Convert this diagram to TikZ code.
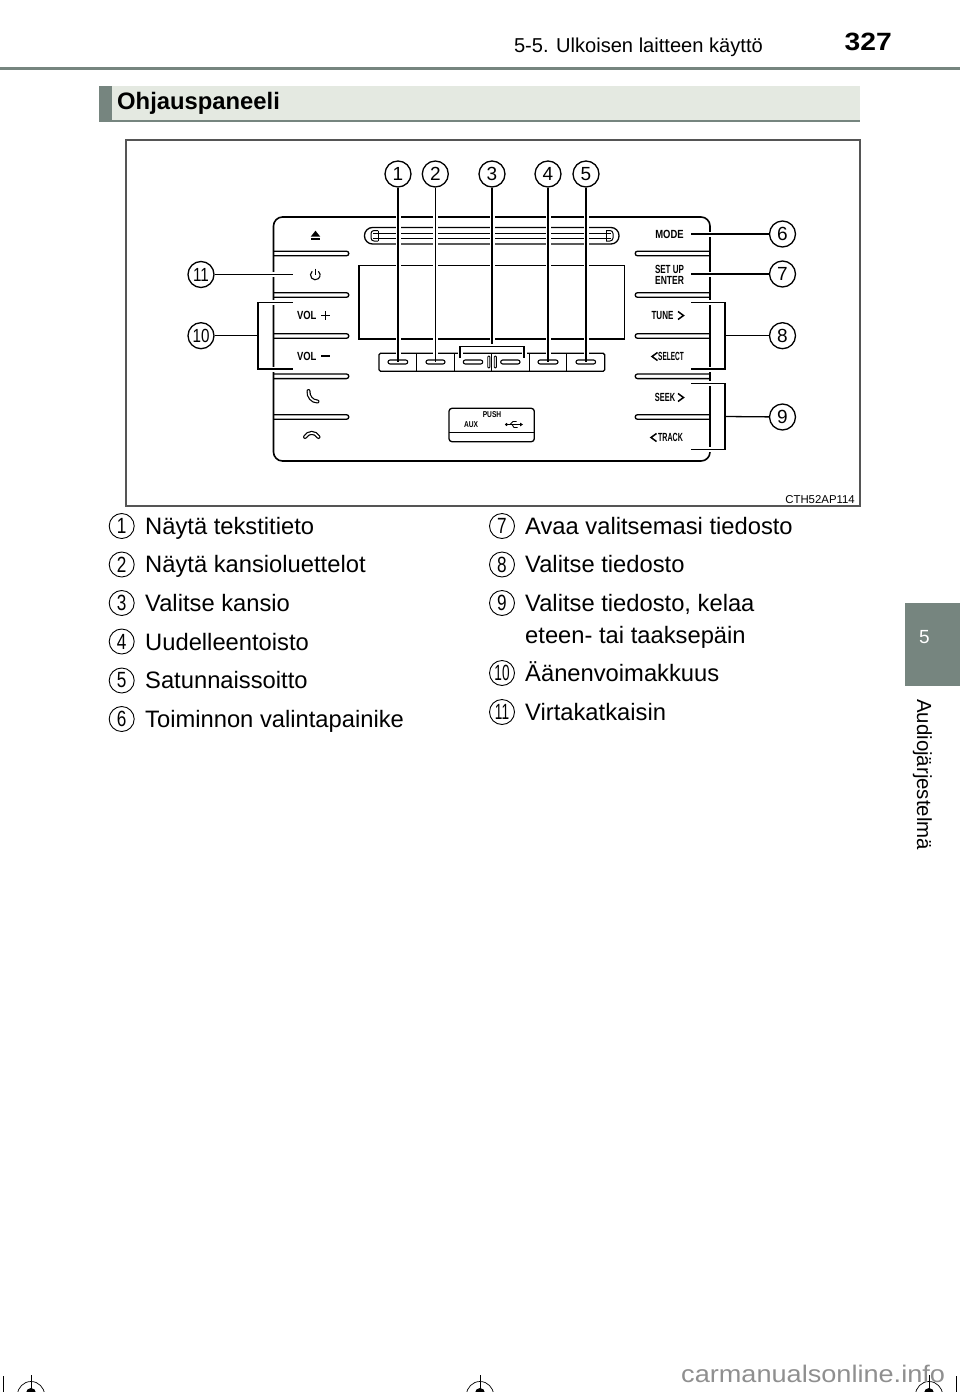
\documentclass[tikz,border=0pt]{standalone}
\usepackage{fontspec}
\setmainfont{Liberation Sans}
\definecolor{tabgray}{HTML}{76857F}
\definecolor{barfill}{HTML}{E4E9E1}
\definecolor{framegray}{HTML}{555555}
\definecolor{markgray}{HTML}{8F8F8F}
\newcommand{\sz}[1]{\fontsize{#1}{#1}\selectfont}
\newcommand{\cnd}[2][.78]{\scalebox{#1}[1]{#2}}
\tikzset{
  inkline/.style={line width=1.3pt,black},
  panelline/.style={line width=1.6pt,black},
  callout/.style={line width=1.3pt,black,preaction={draw,white,line width=5pt}},
  numcirc/.style={circle,draw=black,line width=1.3pt,fill=white,minimum size=26pt,inner sep=0pt,font=\sz{19}},
  legcirc/.style={circle,draw=black,line width=.9pt,minimum size=25pt,inner sep=0pt,font=\sz{22}},
  bodytext/.style={anchor=base west,inner sep=0pt,font=\sz{23.75}},
  paneltext/.style={inner sep=0pt,font=\bfseries\sz{11.8}},
  usbtext/.style={inner sep=0pt,font=\bfseries\sz{8.5}},
  pillshape/.style={line width=1.1pt,black,rounded corners=2pt},
  chevron/.style={line width=1.5pt,black},
  regmark/.style={line width=.7pt,black},
}
\begin{document}
\begin{tikzpicture}[x=1pt,y=-1pt]
\useasboundingbox (0,0) rectangle (960,1392);
% page furniture
\fill[tabgray] (0,66.5) rectangle (960,70);
\fill[barfill] (99,85.5) rectangle (860,122);
\fill[tabgray] (99,85.5) rectangle (112,122);
\fill[tabgray] (112,120.2) rectangle (860,122);
\fill[tabgray] (905,603) rectangle (960,686);
\node[anchor=base east,inner sep=0pt,font=\sz{20.1}] (hdr) at (763,52) {5-5. Ulkoisen laitteen käyttö};
\node[anchor=base east,inner sep=0pt,font=\bfseries\sz{25}] (pg) at (892,50) {\scalebox{1.13}[1]{327}};
\node[anchor=base west,inner sep=0pt,font=\bfseries\sz{23.8}] (sec) at (117,109) {Ohjauspaneeli};
\node[text=white,inner sep=0pt,font=\sz{19}] (tabn) at (924.5,637.5) {5};
\node[rotate=-90,anchor=base west,inner sep=0pt,font=\sz{20.4}] (tabt) at (917,699) {Audiojärjestelmä};
% frame
\draw[framegray,line width=1.25pt] (126,140) rectangle (860,506);
\node[anchor=base east,inner sep=0pt,font=\sz{11.4}] (code) at (855,503) {CTH52AP114};
% panel
\draw[panelline,rounded corners=9pt] (273.5,217) rectangle (710,461);
\foreach \yy in {253.5,295,336,376.3,417}{
  \draw[inkline] (273.5,\yy-2.3) -- (346.5,\yy-2.3) arc[start angle=90,end angle=-90,radius=2.3pt] -- (273.5,\yy+2.3);
  \draw[inkline] (710,\yy-2.3) -- (637.5,\yy-2.3) arc[start angle=90,end angle=270,radius=2.3pt] -- (710,\yy+2.3);
}
% slot
\draw[inkline,rounded corners=8pt] (364.5,227.5) rectangle (619,244);
\draw[inkline] (373,233.3) -- (611,233.3) (373,238.3) -- (611,238.3);
\draw[line width=1pt,rounded corners=3pt] (378,230.5) -- (371,230.5) -- (371,241) -- (378,241);
\draw[line width=1pt] (378,230.5) -- (378,241);
\draw[line width=1pt,rounded corners=3pt] (606,230.5) -- (613,230.5) -- (613,241) -- (606,241);
\draw[line width=1pt] (606,230.5) -- (606,241);
% screen
\draw[inkline] (359,265.7) rectangle (624.3,339);
% button strip
\draw[inkline,rounded corners=1.5pt] (379,353.3) -- (379,371.3) -- (604.7,371.3) -- (604.7,353.3) -- cycle;
\foreach \xx in {416.7,454.3,491.7,529.3,566.7}{\draw[inkline] (\xx,353.3) -- (\xx,371.3);}
% USB box
\draw[inkline,rounded corners=3pt] (449,408.3) rectangle (534.3,441.7);
\draw[inkline] (449,432.7) -- (534.3,432.7);
% callouts
\node[numcirc] (c1) at (398,174) {1};
\node[numcirc] (c2) at (435.3,174) {2};
\node[numcirc] (c3) at (492,174) {3};
\node[numcirc] (c4) at (548,174) {4};
\node[numcirc] (c5) at (586,174) {5};
\node[numcirc] (c6) at (782.5,234) {6};
\node[numcirc] (c7) at (782.5,274) {7};
\node[numcirc] (c8) at (782.5,335.7) {8};
\node[numcirc] (c9) at (782.5,417) {9};
\node[numcirc] (c10) at (201,335.7) {\cnd[.8]{10}};
\node[numcirc] (c11) at (201,274.5) {\cnd[.8]{11}};
\coordinate (e1) at (398,362);
\coordinate (e2) at (435.3,362);
\coordinate (e3) at (492,346.3);
\coordinate (e4) at (548,362);
\coordinate (e5) at (586,362);
\coordinate (e6) at (691,234);
\coordinate (e7) at (691,274);
\coordinate (e8) at (725,335.7);
\coordinate (e9) at (725,416.5);
\coordinate (e10) at (258,335.7);
\coordinate (e11) at (292.7,274.5);
\draw[callout] (c1) -- (e1);
\draw[callout] (c2) -- (e2);
\draw[callout] (c3) -- (e3);
\draw[callout] (c4) -- (e4);
\draw[callout] (c5) -- (e5);
\draw[callout] (c6) -- (e6);
\draw[callout] (c7) -- (e7);
\draw[callout] (c11) -- (e11);
% brackets
\draw[callout] (691,302.3) -- (725,302.3) -- (725,369) -- (691,369);
\draw[callout] (691,383.5) -- (725,383.5) -- (725,449.5) -- (691,449.5);
\draw[callout] (292.7,302.3) -- (258,302.3) -- (258,369) -- (292.7,369);
\draw[callout] (460,358) -- (460,346.3) -- (524,346.3) -- (524,358);
\draw[line width=1.3pt] (c8) -- (e8);
\draw[line width=1.3pt] (c9) -- (e9);
\draw[line width=1.3pt] (c10) -- (e10);
% pills
\foreach \xa/\xb in {388/407.7,426/445,463.3/482.7,500.7/520,538/558,576/595.6}{
  \draw[pillshape] (\xa,360) -- (\xb,360) -- (\xb,364) -- (\xa,364) -- cycle;
}
\draw[line width=.9pt,rounded corners=1pt] (487.7,356) rectangle (489.9,368);
\draw[line width=.9pt,rounded corners=1pt] (494.2,356) rectangle (496.4,368);
% left icons
\fill (310.7,236.7) -- (320.3,236.7) -- (315.5,230.7) -- cycle;
\fill (310.7,238) rectangle (320.3,239.8);
\draw[line width=1.1pt] (312.2,271.3) arc[start angle=130,end angle=410,radius=4.8pt];
\draw[line width=1.1pt] (315.3,268.5) -- (315.3,274.5);
\node[paneltext] (vp) at (306.7,315.5) {\cnd[.8]{VOL}};
\draw[line width=1.4pt] (321,315.5) -- (330,315.5) (325.5,311) -- (325.5,320);
\node[paneltext] (vm) at (306.7,356.5) {\cnd[.8]{VOL}};
\draw[line width=1.4pt] (321,356) -- (330,356);
\draw[line width=4pt,line cap=round] (308.5,391) .. controls (308,396.5) and (312,401.5) .. (317.5,401.5);
\draw[white,line width=1.6pt,line cap=round] (308.5,391) .. controls (308,396.5) and (312,401.5) .. (317.5,401.5);
\draw[line width=4pt,line cap=round] (305,437) .. controls (308.5,431.5) and (315,431.5) .. (318.5,437);
\draw[white,line width=1.6pt,line cap=round] (305,437) .. controls (308.5,431.5) and (315,431.5) .. (318.5,437);
% right labels
\node[paneltext] (mode) at (669.5,234.5) {\cnd[.8]{MODE}};
\node[paneltext] (setup) at (669.5,269.5) {\cnd[.68]{SET UP}};
\node[paneltext] (enter) at (669.5,280.5) {\cnd[.72]{ENTER}};
\node[paneltext] (tune) at (662.5,315.5) {\cnd[.68]{TUNE}};
\draw[chevron] (678,311.5) -- (683.5,315.5) -- (678,319.5);
\node[paneltext] (sel) at (671,356.5) {\cnd[.55]{SELECT}};
\draw[chevron] (657.5,352.5) -- (652,356.5) -- (657.5,360.5);
\node[paneltext] (seek) at (665,397.5) {\cnd[.63]{SEEK}};
\draw[chevron] (678,393.5) -- (683.5,397.5) -- (678,401.5);
\node[paneltext] (track) at (670.5,437.5) {\cnd[.6]{TRACK}};
\draw[chevron] (656.5,433.5) -- (651,437.5) -- (656.5,441.5);
% USB labels
\node[usbtext] (push) at (492,414.5) {\cnd{PUSH}};
\node[usbtext] (aux) at (471,424.5) {\cnd{AUX}};
\fill (506.5,424.5) circle[radius=1.6pt];
\draw[line width=.9pt] (506.5,424.5) -- (520,424.5) (510,424.5) -- (513,421.5) -- (516.5,421.5) (512,424.5) -- (514,427.5) -- (517.5,427.5);
\fill (520,422.6) -- (523,424.5) -- (520,426.4) -- cycle;
% legend
\foreach \n/\yy/\lb in {l1/526/1,l2/564.5/2,l3/603/3,l4/641.5/4,l5/680.5/5,l6/719/6}{
  \node[legcirc] (\n) at (121.7,\yy) {\cnd{\lb}};
}
\foreach \n/\yy/\lb in {l7/526/7,l8/564.5/8,l9/603/9}{
  \node[legcirc] (\n) at (502,\yy) {\cnd{\lb}};
}
\node[legcirc] (l10) at (502,673) {\cnd[.62]{10}};
\node[legcirc] (l11) at (502,712) {\cnd[.62]{11}};
\node[bodytext] (t1) at (145,534.5) {Näytä tekstitieto};
\node[bodytext] (t2) at (145,572.5) {Näytä kansioluettelot};
\node[bodytext] (t3) at (145,611.5) {Valitse kansio};
\node[bodytext] (t4) at (145,650) {Uudelleentoisto};
\node[bodytext] (t5) at (145,688.5) {Satunnaissoitto};
\node[bodytext] (t6) at (145,727.5) {Toiminnon valintapainike};
\node[bodytext] (t7) at (525,534.5) {Avaa valitsemasi tiedosto};
\node[bodytext] (t8) at (525,572.5) {Valitse tiedosto};
\node[bodytext] (t9) at (525,611.5) {Valitse tiedosto, kelaa};
\node[bodytext] (t9b) at (525,643.5) {eteen- tai taaksepäin};
\node[bodytext] (t10) at (525,681.5) {Äänenvoimakkuus};
\node[bodytext] (t11) at (525,720.5) {Virtakatkaisin};
% registration marks
\foreach \xx in {31,480,929}{
  \draw[regmark] (\xx,1395) circle[radius=13.5pt];
  \draw[regmark] (\xx,1375) -- (\xx,1392);
  \fill (\xx,1393) circle[radius=5pt];
}
\draw[regmark] (3.5,1376) -- (3.5,1392);
\draw[regmark] (956.5,1376) -- (956.5,1392);
\node[anchor=base west,inner sep=0pt,text=markgray,font=\sz{24}] (wm) at (681,1382.7) {\cnd[1.13]{carmanualsonline.info}};
\end{tikzpicture}
\end{document}
